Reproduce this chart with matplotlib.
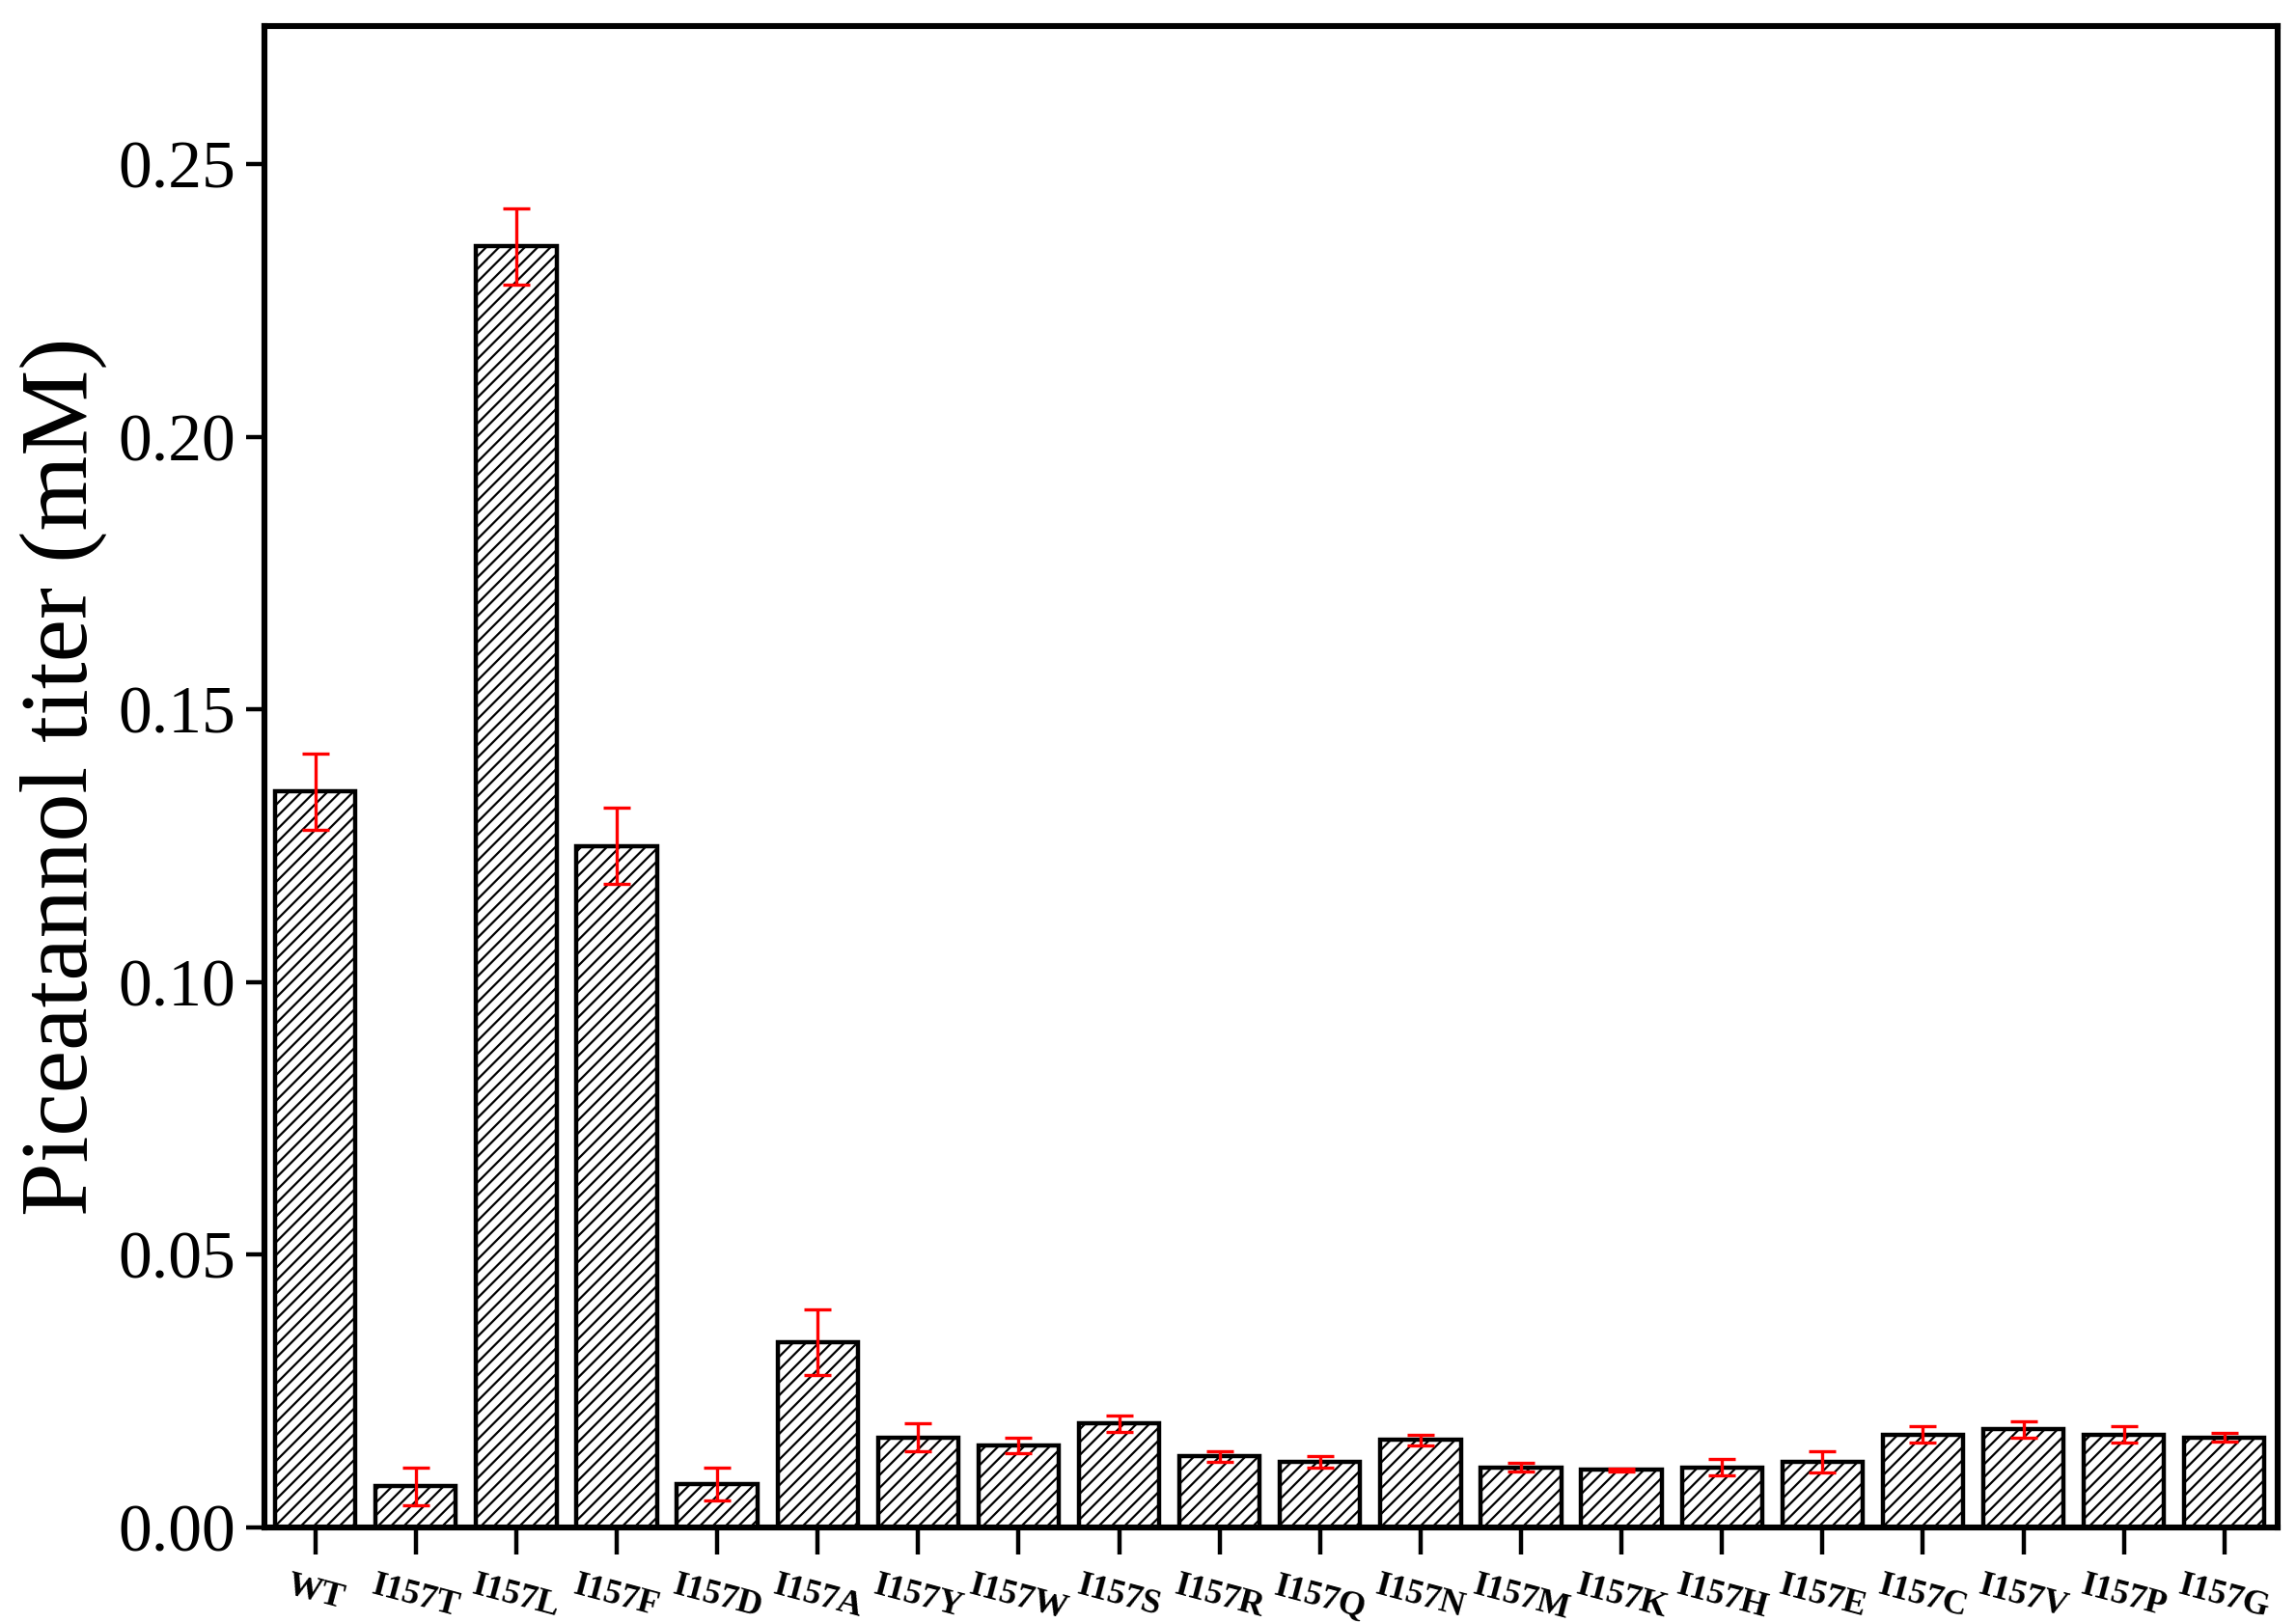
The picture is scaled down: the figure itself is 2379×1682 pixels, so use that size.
import matplotlib
matplotlib.use("Agg")
import matplotlib.pyplot as plt

categories = ["WT","I157T","I157L","I157F","I157D","I157A","I157Y","I157W","I157S","I157R",
              "I157Q","I157N","I157M","I157K","I157H","I157E","I157C","I157V","I157P","I157G"]
values = [0.135,0.0075,0.235,0.125,0.008,0.034,0.0165,0.015,0.019,0.013,
          0.012,0.016,0.011,0.0105,0.011,0.012,0.017,0.018,0.017,0.0165]
errors = [0.007,0.0035,0.007,0.007,0.003,0.006,0.0025,0.0015,0.0015,0.001,
          0.001,0.001,0.0008,0.0003,0.0015,0.002,0.0015,0.0015,0.0015,0.0008]

plt.rcParams['font.family'] = ['Liberation Serif', 'DejaVu Serif']
plt.rcParams['hatch.linewidth'] = 0.8
fig = plt.figure(figsize=(11.895, 8.41), dpi=200)
ax = fig.add_axes([0.115, 0.059, 0.877, 0.925])
x = list(range(len(categories)))
ax.bar(x, values, width=0.8, color='white', edgecolor='black', linewidth=1.6, hatch='/////')
ax.errorbar(x, values, yerr=errors, fmt='none', ecolor='red', elinewidth=1.2, capsize=5, capthick=1.2)
ax.set_xlim(-0.51, 19.53)
ax.set_ylim(0, 0.2754)
ax.set_yticks([0, 0.05, 0.10, 0.15, 0.20, 0.25])
ax.set_yticklabels(["0.00","0.05","0.10","0.15","0.20","0.25"], fontsize=25)
ax.set_xticks(x)
ax.set_xticklabels(categories, fontsize=13, fontweight='bold', rotation=-15, ha='center', va='top')
ax.set_ylabel("Piceatannol titer (mM)", fontsize=36)
for s in ax.spines.values():
    s.set_linewidth(2.2)
ax.tick_params(axis='both', direction='out', width=1.6, length=7)
ax.tick_params(axis='x', length=10, pad=6)
fig.savefig("out.png", dpi=200)
